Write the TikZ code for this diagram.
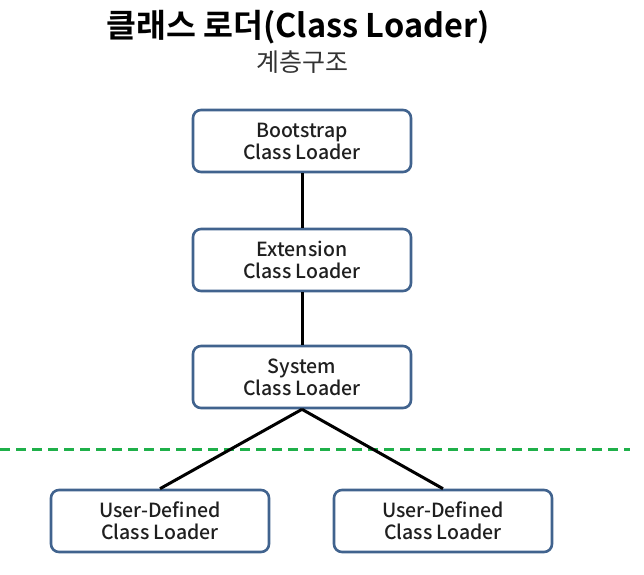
\documentclass[tikz,border=0pt]{standalone}
\usepackage{fontspec}
\setmainfont{Noto Sans CJK KR}
\newfontfamily\krbold{Noto Sans CJK KR Bold}
\newfontfamily\krmed{Noto Sans CJK KR Medium}
\begin{document}
\begin{tikzpicture}[x=1pt,y=-1pt,
  loader/.style={draw=boxblue, line width=2.6pt, rounded corners=8pt, fill=white,
    minimum width=218pt, minimum height=62pt, align=center, inner sep=0pt,
    font=\krmed\fontsize{19.5}{22}\selectfont, text=black!88},
  link/.style={line width=3pt, black}]
\definecolor{boxblue}{HTML}{41638E}
\definecolor{dashgreen}{HTML}{1FB04A}
\useasboundingbox (0,0) rectangle (644,574);
\node (title) at (298,27) {\krbold\fontsize{32.5}{36}\selectfont 클래스 로더(Class Loader)};
\node[text=black!80] (sub) at (302,62) {\fontsize{25}{28}\selectfont 계층구조};
\node[loader] (boot) at (302,141) {Bootstrap\\Class Loader};
\node[loader] (ext) at (302,260) {Extension\\Class Loader};
\node[loader] (sys) at (302,377) {System\\Class Loader};
\node[loader] (ud1) at (160,521) {User-Defined\\Class Loader};
\node[loader] (ud2) at (443,521) {User-Defined\\Class Loader};
\coordinate (dl) at (0,449);
\coordinate (dr) at (630,449);
\draw[dashgreen, line width=3pt, dash pattern=on 10pt off 6pt] (dl) -- (dr);
\draw[link] (boot.south) -- (ext.north);
\draw[link] (ext.south) -- (sys.north);
\draw[link] (sys.south) -- (ud1.north);
\draw[link] (sys.south) -- (ud2.north);
\end{tikzpicture}
\end{document}
